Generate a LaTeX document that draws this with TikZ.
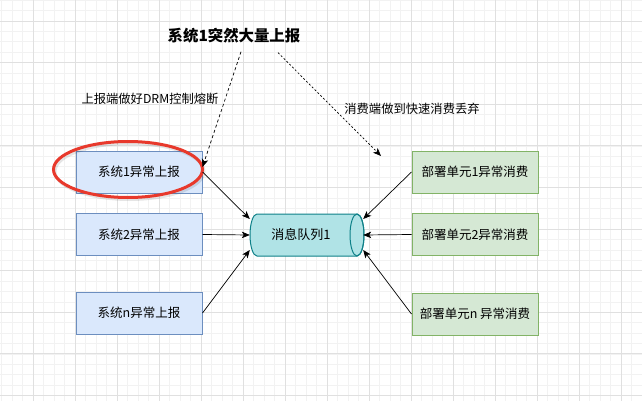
\documentclass[tikz,border=0pt]{standalone}
\usepackage{fontspec}
\setmainfont{Noto Sans CJK SC}
\usetikzlibrary{arrows.meta,calc}
\definecolor{bluefill}{HTML}{DAE8FC}
\definecolor{bluedraw}{HTML}{6C8EBF}
\definecolor{greenfill}{HTML}{D5E8D4}
\definecolor{greendraw}{HTML}{82B366}
\definecolor{cylfill}{HTML}{B0E3E6}
\definecolor{cyldraw}{HTML}{0E8088}
\definecolor{redmark}{HTML}{E8392C}
\definecolor{gridminor}{HTML}{F2F2F2}
\definecolor{gridmajor}{HTML}{E0E0E0}
\definecolor{txt}{HTML}{000000}
\begin{document}
\begin{tikzpicture}[x=1pt,y=-1pt,
  boxtext/.style={font=\fontsize{12.5}{15}\selectfont, text=txt},
  srcbox/.style={boxtext, draw=bluedraw, fill=bluefill, line width=1pt, minimum width=126pt, minimum height=42pt, inner sep=0pt},
  dstbox/.style={boxtext, draw=greendraw, fill=greenfill, line width=1pt, minimum width=126pt, minimum height=42pt, inner sep=0pt},
  conn/.style={-{Stealth[length=8pt,width=6.5pt,inset=2pt]}, line width=0.7pt, black},
  dashconn/.style={conn, dash pattern=on 3pt off 2.5pt},
  dotconn/.style={conn, dash pattern=on 2pt off 2pt},
  lbl/.style={font=\fontsize{12.3}{14}\selectfont, inner sep=0pt, text=txt},
  titletext/.style={font=\fontsize{15.4}{18}\selectfont\bfseries, inner sep=0pt, text=black}
]
\useasboundingbox (0,0) rectangle (642,401);
\fill[white] (0,0) rectangle (642,401);
% grid
\foreach \i in {0,...,62} {\draw[gridminor, line width=0.6pt] ({-9+10.5*\i},0) -- ({-9+10.5*\i},401);}
\foreach \i in {0,...,40} {\draw[gridminor, line width=0.6pt] (0,{-20.6+10.4*\i}) -- (642,{-20.6+10.4*\i});}
\foreach \i in {0,...,16} {\draw[gridmajor, line width=0.8pt] ({-9+42*\i},0) -- ({-9+42*\i},401);}
\foreach \i in {0,...,10} {\draw[gridmajor, line width=0.8pt] (0,{-20.6+41.6*\i}) -- (642,{-20.6+41.6*\i});}

% source boxes
\node[srcbox] (s1) at (139,172) {系统1异常上报};
\node[srcbox] (s2) at (139,234.5) {系统2异常上报};
\node[srcbox] (sn) at (139,313) {系统n异常上报};
% destination boxes
\node[dstbox] (d1) at (475,172) {部署单元1异常消费};
\node[dstbox] (d2) at (475,234.5) {部署单元2异常消费};
\node[dstbox] (dn) at (475,314) {部署单元n 异常消费};

% cylinder (message queue)
\path[fill=cylfill, draw=cyldraw, line width=1pt]
  (257,214) -- (357,214) arc[start angle=-90, end angle=90, x radius=7, y radius=21]
  -- (257,256) arc[start angle=90, end angle=270, x radius=7, y radius=21] -- cycle;
\draw[cyldraw, line width=1pt] (357,235) ellipse[x radius=7, y radius=21];
\node[minimum width=114pt, minimum height=42pt, inner sep=0pt] (mq) at (307,235) {};
\node[boxtext, font=\fontsize{13}{15}\selectfont, inner sep=0pt] (mqtext) at (301,235) {消息队列1};

% title and labels
\node[titletext] (t) at (234,36) {系统1突然大量上报};
\node[lbl] (l1) at (150,99) {上报端做好DRM控制熔断};
\node[lbl] (l2) at (412,109) {消费端做到快速消费丢弃};
\coordinate (dropend) at (381,156);

% red highlight ellipse
\draw[black, opacity=0.1, line width=3pt] (129.5,171.5) ellipse[x radius=74.5, y radius=28];
\draw[redmark, line width=3pt] (128,169.5) ellipse[x radius=74.5, y radius=28];

% connectors
\draw[conn] (s1.east) -- ([yshift=16pt]mq.west);
\draw[conn] (s2.east) -- (mq.west);
\draw[conn] (sn.east) -- ([yshift=-15pt]mq.west);
\draw[conn] (d1.west) -- ([xshift=-1pt,yshift=16pt]mq.east);
\draw[conn] (d2.west) -- ([xshift=-1pt]mq.east);
\draw[conn] (dn.west) -- ([xshift=-1pt,yshift=-15pt]mq.east);

% dashed arrows from title
\draw[dashconn] ([xshift=7pt,yshift=-8pt]t.south) -- ([yshift=5pt]s1.east);
\draw[dotconn] ([xshift=44pt,yshift=-9pt]t.south) -- (dropend);
\end{tikzpicture}
\end{document}
